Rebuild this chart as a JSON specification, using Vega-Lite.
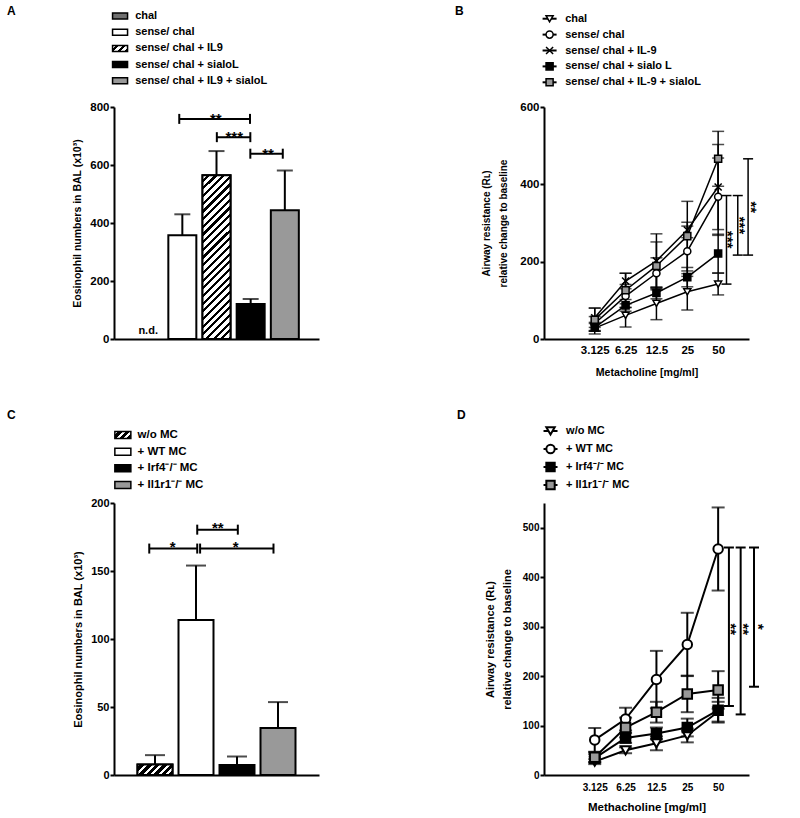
{
"$schema": "https://vega.github.io/schema/vega-lite/v6.json",
"padding": {"left": 7, "top": 5, "right": 5, "bottom": 5},
"background": "white",
"bounds": "flush",
"columns": 2,
"spacing": {"row": 0, "column": 225},
"resolve": {"scale": {"fill": "independent", "shape": "independent"}},
"config": {
  "font": "Liberation Sans",
  "view": {"stroke": null},
  "axis": {"grid": false, "domainColor": "#000", "domainWidth": 2, "tickColor": "#000", "tickWidth": 2, "tickSize": 4, "labelColor": "#000", "labelFont": "Liberation Sans", "labelFontWeight": "bold", "labelFontSize": 11, "labelPadding": 1, "titleColor": "#000", "titleFont": "Liberation Sans", "titleFontWeight": "bold", "titleFontSize": 11},
  "title": {"font": "Liberation Sans", "fontWeight": "bold", "fontSize": 12, "color": "#000", "anchor": "start", "frame": "group", "offset": 0},
  "text": {"font": "Liberation Sans", "fontWeight": "bold", "color": "#000"}
},
"datasets": {
  "legA": [
    {"label": "chal", "order": 0},
    {"label": "sense/ chal", "order": 1},
    {"label": "sense/ chal + IL9", "order": 2},
    {"label": "sense/ chal + sialoL", "order": 3},
    {"label": "sense/ chal + IL9 + sialoL", "order": 4}
  ],
  "A": [
    {"group": "chal", "idx": 0, "mean": null, "sem": null, "note": "n.d."},
    {"group": "sense/ chal", "idx": 1, "mean": 358, "sem": 72},
    {"group": "sense/ chal + IL9", "idx": 2, "mean": 565, "sem": 83},
    {"group": "sense/ chal + sialoL", "idx": 3, "mean": 121, "sem": 17},
    {"group": "sense/ chal + IL9 + sialoL", "idx": 4, "mean": 444, "sem": 137}
  ],
  "Asig": [
    {"x1": 0.91, "x2": 2.98, "xm": 1.98, "y": 759, "label": "**"},
    {"x1": 2.01, "x2": 2.99, "xm": 2.52, "y": 696, "label": "***"},
    {"x1": 2.99, "x2": 3.94, "xm": 3.51, "y": 639, "label": "**"}
  ],
  "legB": [
    {"label": "chal", "order": 0},
    {"label": "sense/ chal", "order": 1},
    {"label": "sense/ chal + IL-9", "order": 2},
    {"label": "sense/ chal + sialo L", "order": 3},
    {"label": "sense/ chal + IL-9 + sialoL", "order": 4}
  ],
  "B": [
    {"s": "chal", "dose": 3.125, "mean": 28, "sem": 15},
    {"s": "chal", "dose": 6.25, "mean": 61, "sem": 30},
    {"s": "chal", "dose": 12.5, "mean": 92, "sem": 42},
    {"s": "chal", "dose": 25, "mean": 122, "sem": 47},
    {"s": "chal", "dose": 50, "mean": 142, "sem": 28},
    {"s": "sense/ chal", "dose": 3.125, "mean": 40, "sem": 18},
    {"s": "sense/ chal", "dose": 6.25, "mean": 111, "sem": 30},
    {"s": "sense/ chal", "dose": 12.5, "mean": 170, "sem": 40},
    {"s": "sense/ chal", "dose": 25, "mean": 227, "sem": 65},
    {"s": "sense/ chal", "dose": 50, "mean": 368, "sem": 100},
    {"s": "sense/ chal + IL-9", "dose": 3.125, "mean": 55, "sem": 25},
    {"s": "sense/ chal + IL-9", "dose": 6.25, "mean": 150, "sem": 20},
    {"s": "sense/ chal + IL-9", "dose": 12.5, "mean": 202, "sem": 70},
    {"s": "sense/ chal + IL-9", "dose": 25, "mean": 282, "sem": 20},
    {"s": "sense/ chal + IL-9", "dose": 50, "mean": 393, "sem": 110},
    {"s": "sense/ chal + sialo L", "dose": 3.125, "mean": 30, "sem": 10},
    {"s": "sense/ chal + sialo L", "dose": 6.25, "mean": 87, "sem": 15},
    {"s": "sense/ chal + sialo L", "dose": 12.5, "mean": 119, "sem": 15},
    {"s": "sense/ chal + sialo L", "dose": 25, "mean": 160, "sem": 25},
    {"s": "sense/ chal + sialo L", "dose": 50, "mean": 221, "sem": 50},
    {"s": "sense/ chal + IL-9 + sialoL", "dose": 3.125, "mean": 50, "sem": 30},
    {"s": "sense/ chal + IL-9 + sialoL", "dose": 6.25, "mean": 126, "sem": 44},
    {"s": "sense/ chal + IL-9 + sialoL", "dose": 12.5, "mean": 189, "sem": 62},
    {"s": "sense/ chal + IL-9 + sialoL", "dose": 25, "mean": 266, "sem": 90},
    {"s": "sense/ chal + IL-9 + sialoL", "dose": 50, "mean": 466, "sem": 71}
  ],
  "Bsig": [
    {"bx": 60.3, "ytop": 371, "ybot": 142, "lx": 61.7, "ym": 257, "label": "***"},
    {"bx": 77.7, "ytop": 371, "ybot": 217, "lx": 80.7, "ym": 294, "label": "***"},
    {"bx": 98.0, "ytop": 466, "ybot": 217, "lx": 104.4, "ym": 341, "label": "**"}
  ],
  "legC": [
    {"label": "\u00a0\u00a0w/o MC", "order": 0},
    {"label": "+ WT MC", "order": 1},
    {"label": "+ Irf4\u207b/\u207b MC", "order": 2},
    {"label": "+ Il1r1\u207b/\u207b MC", "order": 3}
  ],
  "C": [
    {"group": "w/o MC", "idx": 0, "mean": 7.8, "sem": 6.8},
    {"group": "+ WT MC", "idx": 1, "mean": 114, "sem": 40},
    {"group": "+ Irf4-/- MC", "idx": 2, "mean": 7.3, "sem": 6.3},
    {"group": "+ Il1r1-/- MC", "idx": 3, "mean": 34.6, "sem": 19}
  ],
  "Csig": [
    {"x1": -0.14, "x2": 1.03, "xm": 0.43, "y": 166.5, "label": "*"},
    {"x1": 1.03, "x2": 2.02, "xm": 1.53, "y": 180.4, "label": "**"},
    {"x1": 1.1, "x2": 2.89, "xm": 1.97, "y": 166.5, "label": "*"}
  ],
  "legD": [
    {"label": "\u00a0\u00a0\u00a0w/o MC", "order": 0},
    {"label": "+ WT MC", "order": 1},
    {"label": "+ Irf4\u207b/\u207b MC", "order": 2},
    {"label": "+ Il1r1\u207b/\u207b MC", "order": 3}
  ],
  "D": [
    {"s": "w/o MC", "dose": 3.125, "mean": 27, "sem": 5},
    {"s": "w/o MC", "dose": 6.25, "mean": 50, "sem": 6},
    {"s": "w/o MC", "dose": 12.5, "mean": 64, "sem": 14},
    {"s": "w/o MC", "dose": 25, "mean": 80, "sem": 14},
    {"s": "w/o MC", "dose": 50, "mean": 128, "sem": 20},
    {"s": "+ WT MC", "dose": 3.125, "mean": 71, "sem": 24},
    {"s": "+ WT MC", "dose": 6.25, "mean": 113, "sem": 23},
    {"s": "+ WT MC", "dose": 12.5, "mean": 193, "sem": 58},
    {"s": "+ WT MC", "dose": 25, "mean": 264, "sem": 64},
    {"s": "+ WT MC", "dose": 50, "mean": 457, "sem": 84},
    {"s": "+ Irf4-/- MC", "dose": 3.125, "mean": 34, "sem": 8},
    {"s": "+ Irf4-/- MC", "dose": 6.25, "mean": 75, "sem": 10},
    {"s": "+ Irf4-/- MC", "dose": 12.5, "mean": 84, "sem": 12},
    {"s": "+ Irf4-/- MC", "dose": 25, "mean": 96, "sem": 18},
    {"s": "+ Irf4-/- MC", "dose": 50, "mean": 131, "sem": 25},
    {"s": "+ Il1r1-/- MC", "dose": 3.125, "mean": 36, "sem": 10},
    {"s": "+ Il1r1-/- MC", "dose": 6.25, "mean": 96, "sem": 20},
    {"s": "+ Il1r1-/- MC", "dose": 12.5, "mean": 127, "sem": 21},
    {"s": "+ Il1r1-/- MC", "dose": 25, "mean": 164, "sem": 37},
    {"s": "+ Il1r1-/- MC", "dose": 50, "mean": 172, "sem": 38}
  ],
  "Dsig": [
    {"bx": 63.7, "ytop": 460, "ybot": 139.5, "lx": 66.4, "ym": 295, "label": "**"},
    {"bx": 82.9, "ytop": 460, "ybot": 122.5, "lx": 87.8, "ym": 295, "label": "**"},
    {"bx": 111.9, "ytop": 460, "ybot": 178.5, "lx": 122.9, "ym": 300, "label": "*"}
  ]
},
"concat": [
  {
    "width": 205, "height": 100,
    "title": {"text": "A", "dx": -107, "dy": 15, "baseline": "top"},
    "data": {"name": "legA"},
    "encoding": {"y": {"field": "order", "type": "quantitative", "scale": {"domain": [-0.5556, 5.617], "reverse": true}, "axis": null}},
    "layer": [
      {"transform": [{"filter": "datum.order != 2"}],
       "mark": {"type": "point", "shape": "M-1,-0.4H1V0.4H-1Z", "size": 225, "filled": true, "stroke": "#000", "strokeWidth": 1.5, "opacity": 1},
       "encoding": {"x": {"datum": 6.5, "type": "quantitative", "scale": {"domain": [0, 205]}, "axis": null},
                    "fill": {"field": "label", "type": "nominal", "scale": {"domain": ["chal", "sense/ chal", "sense/ chal + sialoL", "sense/ chal + IL9 + sialoL"], "range": ["#707070", "#ffffff", "#000000", "#999999"]}, "legend": null}}},
      {"transform": [{"filter": "datum.order == 2"}],
       "mark": {"type": "point", "shape": "M-1,-0.4H1V0.4H-1Z", "size": 225, "filled": true, "stroke": "#000", "strokeWidth": 1.5, "opacity": 1,
                "fill": {"gradient": "linear", "x1": 0, "y1": 0, "x2": 1.207, "y2": 0.483, "stops": [{"offset":0,"color":"#fff"},{"offset":0.1667,"color":"#fff"},{"offset":0.1667,"color":"#000"},{"offset":0.3333,"color":"#000"},{"offset":0.3333,"color":"#fff"},{"offset":0.5,"color":"#fff"},{"offset":0.5,"color":"#000"},{"offset":0.6667,"color":"#000"},{"offset":0.6667,"color":"#fff"},{"offset":0.8333,"color":"#fff"},{"offset":0.8333,"color":"#000"},{"offset":1,"color":"#000"}]}},
       "encoding": {"x": {"datum": 6.5, "type": "quantitative"}}},
      {"mark": {"type": "text", "align": "left", "baseline": "middle", "fontSize": 11, "fontWeight": "bold", "color": "#000"},
       "encoding": {"x": {"datum": 22.7, "type": "quantitative"}, "text": {"field": "label"}}}
    ]
  },
  {
    "width": 205, "height": 100,
    "title": {"text": "B", "dx": -89, "dy": 15, "baseline": "top"},
    "data": {"name": "legB"},
    "encoding": {"y": {"field": "order", "type": "quantitative", "scale": {"domain": [-0.736, 5.553], "reverse": true}, "axis": null}},
    "layer": [
      {"mark": {"type": "point", "shape": "stroke", "size": 196, "filled": false, "stroke": "#000", "strokeWidth": 2, "opacity": 1},
       "encoding": {"x": {"datum": 6, "type": "quantitative", "scale": {"domain": [0, 205]}, "axis": null}}},
      {"mark": {"type": "point", "filled": true, "stroke": "#000", "strokeWidth": 1.5, "size": 50, "opacity": 1},
       "encoding": {"x": {"datum": 6, "type": "quantitative"},
         "shape": {"field": "label", "type": "nominal", "scale": {"domain": ["chal", "sense/ chal", "sense/ chal + IL-9", "sense/ chal + sialo L", "sense/ chal + IL-9 + sialoL"], "range": ["triangle-down", "circle", "M-1,-1L1,1M-1,1L1,-1", "square", "square"]}, "legend": null},
         "fill": {"field": "label", "type": "nominal", "scale": {"domain": ["chal", "sense/ chal", "sense/ chal + IL-9", "sense/ chal + sialo L", "sense/ chal + IL-9 + sialoL"], "range": ["#ffffff", "#ffffff", "#ffffff", "#000000", "#999999"]}, "legend": null}}},
      {"mark": {"type": "text", "align": "left", "baseline": "middle", "fontSize": 11, "fontWeight": "bold", "color": "#000"},
       "encoding": {"x": {"datum": 22.7, "type": "quantitative"}, "text": {"field": "label"}}}
    ]
  },
  {
    "width": 205, "height": 232,
    "layer": [
      {"data": {"name": "A"},
       "transform": [{"filter": "isValid(datum.mean)"}],
       "layer": [
         {"mark": {"type": "errorbar", "color": "#000", "ticks": {"size": 16, "thickness": 2}, "rule": {"strokeWidth": 2}},
          "encoding": {
            "x": {"field": "idx", "type": "quantitative", "scale": {"domain": [-0.5, 4.5]}, "axis": {"labels": false, "ticks": false, "title": null}},
            "y": {"field": "mean", "type": "quantitative", "scale": {"domain": [0, 800]}, "axis": {"values": [0, 200, 400, 600, 800], "labelFontSize": 11.5, "title": "Eosinophil numbers in BAL (x10\u00b3)", "titleFontSize": 10.5, "titlePadding": 7}},
            "yError": {"field": "sem"}}},
         {"mark": {"type": "bar", "width": 28, "stroke": "#000", "strokeWidth": 2},
          "encoding": {"x": {"field": "idx", "type": "quantitative"}, "y": {"field": "mean", "type": "quantitative"},
            "fill": {"field": "group", "type": "nominal", "scale": {"domain": ["sense/ chal", "sense/ chal + IL9", "sense/ chal + sialoL", "sense/ chal + IL9 + sialoL"], "range": ["#ffffff", "#ffffff", "#000000", "#999999"]}, "legend": null}}},
         {"transform": [{"filter": "datum.group == 'sense/ chal + IL9'"}],
          "mark": {"type": "bar", "width": 28, "stroke": "#000", "strokeWidth": 2,
            "fill": {"gradient": "linear", "x1": 0, "y1": 0, "x2": 0.1943, "y2": 1.1376, "stops": [
{"offset":0,"color":"#fff"},{"offset":0.024,"color":"#fff"},{"offset":0.024,"color":"#000"},{"offset":0.04,"color":"#000"},
{"offset":0.04,"color":"#fff"},{"offset":0.064,"color":"#fff"},{"offset":0.064,"color":"#000"},{"offset":0.08,"color":"#000"},
{"offset":0.08,"color":"#fff"},{"offset":0.104,"color":"#fff"},{"offset":0.104,"color":"#000"},{"offset":0.12,"color":"#000"},
{"offset":0.12,"color":"#fff"},{"offset":0.144,"color":"#fff"},{"offset":0.144,"color":"#000"},{"offset":0.16,"color":"#000"},
{"offset":0.16,"color":"#fff"},{"offset":0.184,"color":"#fff"},{"offset":0.184,"color":"#000"},{"offset":0.2,"color":"#000"},
{"offset":0.2,"color":"#fff"},{"offset":0.224,"color":"#fff"},{"offset":0.224,"color":"#000"},{"offset":0.24,"color":"#000"},
{"offset":0.24,"color":"#fff"},{"offset":0.264,"color":"#fff"},{"offset":0.264,"color":"#000"},{"offset":0.28,"color":"#000"},
{"offset":0.28,"color":"#fff"},{"offset":0.304,"color":"#fff"},{"offset":0.304,"color":"#000"},{"offset":0.32,"color":"#000"},
{"offset":0.32,"color":"#fff"},{"offset":0.344,"color":"#fff"},{"offset":0.344,"color":"#000"},{"offset":0.36,"color":"#000"},
{"offset":0.36,"color":"#fff"},{"offset":0.384,"color":"#fff"},{"offset":0.384,"color":"#000"},{"offset":0.4,"color":"#000"},
{"offset":0.4,"color":"#fff"},{"offset":0.424,"color":"#fff"},{"offset":0.424,"color":"#000"},{"offset":0.44,"color":"#000"},
{"offset":0.44,"color":"#fff"},{"offset":0.464,"color":"#fff"},{"offset":0.464,"color":"#000"},{"offset":0.48,"color":"#000"},
{"offset":0.48,"color":"#fff"},{"offset":0.504,"color":"#fff"},{"offset":0.504,"color":"#000"},{"offset":0.52,"color":"#000"},
{"offset":0.52,"color":"#fff"},{"offset":0.544,"color":"#fff"},{"offset":0.544,"color":"#000"},{"offset":0.56,"color":"#000"},
{"offset":0.56,"color":"#fff"},{"offset":0.584,"color":"#fff"},{"offset":0.584,"color":"#000"},{"offset":0.6,"color":"#000"},
{"offset":0.6,"color":"#fff"},{"offset":0.624,"color":"#fff"},{"offset":0.624,"color":"#000"},{"offset":0.64,"color":"#000"},
{"offset":0.64,"color":"#fff"},{"offset":0.664,"color":"#fff"},{"offset":0.664,"color":"#000"},{"offset":0.68,"color":"#000"},
{"offset":0.68,"color":"#fff"},{"offset":0.704,"color":"#fff"},{"offset":0.704,"color":"#000"},{"offset":0.72,"color":"#000"},
{"offset":0.72,"color":"#fff"},{"offset":0.744,"color":"#fff"},{"offset":0.744,"color":"#000"},{"offset":0.76,"color":"#000"},
{"offset":0.76,"color":"#fff"},{"offset":0.784,"color":"#fff"},{"offset":0.784,"color":"#000"},{"offset":0.8,"color":"#000"},
{"offset":0.8,"color":"#fff"},{"offset":0.824,"color":"#fff"},{"offset":0.824,"color":"#000"},{"offset":0.84,"color":"#000"},
{"offset":0.84,"color":"#fff"},{"offset":0.864,"color":"#fff"},{"offset":0.864,"color":"#000"},{"offset":0.88,"color":"#000"},
{"offset":0.88,"color":"#fff"},{"offset":0.904,"color":"#fff"},{"offset":0.904,"color":"#000"},{"offset":0.92,"color":"#000"},
{"offset":0.92,"color":"#fff"},{"offset":0.944,"color":"#fff"},{"offset":0.944,"color":"#000"},{"offset":0.96,"color":"#000"},
{"offset":0.96,"color":"#fff"},{"offset":0.984,"color":"#fff"},{"offset":0.984,"color":"#000"},{"offset":1,"color":"#000"}]}},
          "encoding": {"x": {"field": "idx", "type": "quantitative"}, "y": {"field": "mean", "type": "quantitative"}}}
       ]},
      {"data": {"name": "A"},
       "transform": [{"filter": "isValid(datum.note)"}],
       "mark": {"type": "text", "baseline": "alphabetic", "dy": -5, "fontSize": 11, "fontWeight": "bold", "color": "#000"},
       "encoding": {"x": {"field": "idx", "type": "quantitative"}, "y": {"datum": 0, "type": "quantitative"}, "text": {"field": "note"}}},
      {"data": {"name": "Asig"},
       "layer": [
         {"mark": {"type": "rule", "color": "#000", "strokeWidth": 2},
          "encoding": {"x": {"field": "x1", "type": "quantitative"}, "x2": {"field": "x2"}, "y": {"field": "y", "type": "quantitative"}}},
         {"mark": {"type": "tick", "orient": "vertical", "color": "#000", "size": 10, "thickness": 2, "opacity": 1},
          "encoding": {"x": {"field": "x1", "type": "quantitative"}, "y": {"field": "y", "type": "quantitative"}}},
         {"mark": {"type": "tick", "orient": "vertical", "color": "#000", "size": 10, "thickness": 2, "opacity": 1},
          "encoding": {"x": {"field": "x2", "type": "quantitative"}, "y": {"field": "y", "type": "quantitative"}}},
         {"mark": {"type": "text", "baseline": "alphabetic", "dy": 5, "fontSize": 15, "fontWeight": "bold", "color": "#000"},
          "encoding": {"x": {"field": "xm", "type": "quantitative"}, "y": {"field": "y", "type": "quantitative"}, "text": {"field": "label"}}}
       ]}
    ]
  },
  {
    "width": 205, "height": 232,
    "layer": [
      {"data": {"name": "B"},
       "layer": [
         {"mark": {"type": "errorbar", "color": "#000", "ticks": {"size": 12, "thickness": 1.5}, "rule": {"strokeWidth": 1.5}},
          "encoding": {
            "x": {"field": "dose", "type": "quantitative", "scale": {"type": "log", "domain": [2.114, 70.3]}, "axis": {"values": [3.125, 6.25, 12.5, 25, 50], "format": "~g", "ticks": false, "labelFontSize": 11.5, "labelPadding": 5, "title": "Metacholine [mg/ml]", "titleFontSize": 10.6, "titlePadding": 12}},
            "y": {"field": "mean", "type": "quantitative", "scale": {"domain": [0, 600]}, "axis": {"values": [0, 100, 200, 300, 400, 500, 600], "labelFontSize": 11.5, "title": ["Airway resistance (R\u029f)", "relative change to baseline"], "titleFontSize": 10, "titleLineHeight": 17.5, "titlePadding": 11}},
            "yError": {"field": "sem"}}},
         {"mark": {"type": "line", "color": "#000", "strokeWidth": 1.5},
          "encoding": {"x": {"field": "dose", "type": "quantitative"}, "y": {"field": "mean", "type": "quantitative"}, "detail": {"field": "s"}}},
         {"mark": {"type": "point", "filled": true, "stroke": "#000", "strokeWidth": 1.5, "size": 50, "opacity": 1},
          "encoding": {"x": {"field": "dose", "type": "quantitative"}, "y": {"field": "mean", "type": "quantitative"},
            "shape": {"field": "s", "type": "nominal", "scale": {"domain": ["chal", "sense/ chal", "sense/ chal + IL-9", "sense/ chal + sialo L", "sense/ chal + IL-9 + sialoL"], "range": ["triangle-down", "circle", "M-1,-1L1,1M-1,1L1,-1", "square", "square"]}, "legend": null},
            "fill": {"field": "s", "type": "nominal", "scale": {"domain": ["chal", "sense/ chal", "sense/ chal + IL-9", "sense/ chal + sialo L", "sense/ chal + IL-9 + sialoL"], "range": ["#ffffff", "#ffffff", "#ffffff", "#000000", "#999999"]}, "legend": null}}}
       ]},
      {"data": {"name": "Bsig"},
       "layer": [
         {"mark": {"type": "rule", "color": "#000", "strokeWidth": 1.5},
          "encoding": {"x": {"field": "bx", "type": "quantitative"}, "y": {"field": "ytop", "type": "quantitative"}, "y2": {"field": "ybot"}}},
         {"mark": {"type": "tick", "orient": "horizontal", "color": "#000", "size": 10, "thickness": 1.5, "opacity": 1},
          "encoding": {"x": {"field": "bx", "type": "quantitative"}, "y": {"field": "ytop", "type": "quantitative"}}},
         {"mark": {"type": "tick", "orient": "horizontal", "color": "#000", "size": 10, "thickness": 1.5, "opacity": 1},
          "encoding": {"x": {"field": "bx", "type": "quantitative"}, "y": {"field": "ybot", "type": "quantitative"}}},
         {"mark": {"type": "text", "angle": 90.6, "align": "center", "baseline": "middle", "fontSize": 15, "fontWeight": "bold", "color": "#000"},
          "encoding": {"x": {"field": "lx", "type": "quantitative"}, "y": {"field": "ym", "type": "quantitative"}, "text": {"field": "label"}}}
       ]}
    ]
  },
  {
    "width": 205, "height": 164,
    "title": {"text": "C", "dx": -107, "dy": 87, "baseline": "top"},
    "data": {"name": "legC"},
    "encoding": {"y": {"field": "order", "type": "quantitative", "scale": {"domain": [-5.76, 4.08], "reverse": true}, "axis": null}},
    "layer": [
      {"transform": [{"filter": "datum.order != 0"}],
       "mark": {"type": "point", "shape": "M-1,-0.44H1V0.44H-1Z", "size": 256, "filled": true, "stroke": "#000", "strokeWidth": 1.5, "opacity": 1},
       "encoding": {"x": {"datum": 9.5, "type": "quantitative", "scale": {"domain": [0, 205]}, "axis": null},
                    "fill": {"field": "label", "type": "nominal", "scale": {"domain": ["+ WT MC", "+ Irf4\u207b/\u207b MC", "+ Il1r1\u207b/\u207b MC"], "range": ["#ffffff", "#000000", "#999999"]}, "legend": null}}},
      {"transform": [{"filter": "datum.order == 0"}],
       "mark": {"type": "point", "shape": "M-1,-0.44H1V0.44H-1Z", "size": 256, "filled": true, "stroke": "#000", "strokeWidth": 1.5, "opacity": 1,
                "fill": {"gradient": "linear", "x1": 0, "y1": 0, "x2": 1.207, "y2": 0.528, "stops": [{"offset":0,"color":"#fff"},{"offset":0.1333,"color":"#fff"},{"offset":0.1333,"color":"#000"},{"offset":0.3333,"color":"#000"},{"offset":0.3333,"color":"#fff"},{"offset":0.4667,"color":"#fff"},{"offset":0.4667,"color":"#000"},{"offset":0.6667,"color":"#000"},{"offset":0.6667,"color":"#fff"},{"offset":0.8,"color":"#fff"},{"offset":0.8,"color":"#000"},{"offset":1,"color":"#000"}]}},
       "encoding": {"x": {"datum": 9.5, "type": "quantitative"}}},
      {"mark": {"type": "text", "align": "left", "baseline": "middle", "fontSize": 11.5, "fontWeight": "bold", "color": "#000"},
       "encoding": {"x": {"datum": 25.3, "type": "quantitative"}, "text": {"field": "label"}}}
    ]
  },
  {
    "width": 205, "height": 164,
    "title": {"text": "D", "dx": -87, "dy": 87, "baseline": "top"},
    "data": {"name": "legD"},
    "encoding": {"y": {"field": "order", "type": "quantitative", "scale": {"domain": [-5.11, 4.0], "reverse": true}, "axis": null}},
    "layer": [
      {"mark": {"type": "point", "shape": "stroke", "size": 196, "filled": false, "stroke": "#000", "strokeWidth": 2, "opacity": 1},
       "encoding": {"x": {"datum": 7, "type": "quantitative", "scale": {"domain": [0, 205]}, "axis": null}}},
      {"mark": {"type": "point", "filled": true, "stroke": "#000", "strokeWidth": 2, "size": 70, "opacity": 1},
       "encoding": {"x": {"datum": 7, "type": "quantitative"},
         "shape": {"field": "label", "type": "nominal", "scale": {"domain": ["\u00a0\u00a0\u00a0w/o MC", "+ WT MC", "+ Irf4\u207b/\u207b MC", "+ Il1r1\u207b/\u207b MC"], "range": ["triangle-down", "circle", "square", "square"]}, "legend": null},
         "fill": {"field": "label", "type": "nominal", "scale": {"domain": ["\u00a0\u00a0\u00a0w/o MC", "+ WT MC", "+ Irf4\u207b/\u207b MC", "+ Il1r1\u207b/\u207b MC"], "range": ["#ffffff", "#ffffff", "#000000", "#999999"]}, "legend": null}}},
      {"mark": {"type": "text", "align": "left", "baseline": "middle", "fontSize": 11, "fontWeight": "bold", "color": "#000"},
       "encoding": {"x": {"datum": 23.7, "type": "quantitative"}, "text": {"field": "label"}}}
    ]
  },
  {
    "width": 205, "height": 272,
    "layer": [
      {"data": {"name": "C"},
       "layer": [
         {"mark": {"type": "errorbar", "color": "#000", "ticks": {"size": 20, "thickness": 2}, "rule": {"strokeWidth": 2}},
          "encoding": {
            "x": {"field": "idx", "type": "quantitative", "scale": {"domain": [-0.5, 3.5]}, "axis": {"labels": false, "ticks": false, "title": null}},
            "y": {"field": "mean", "type": "quantitative", "scale": {"domain": [0, 200]}, "axis": {"values": [0, 50, 100, 150, 200], "labelFontSize": 11, "title": "Eosinophil numbers in BAL (x10\u00b3)", "titleFontSize": 11, "titlePadding": 7}},
            "yError": {"field": "sem"}}},
         {"mark": {"type": "bar", "width": 35, "stroke": "#000", "strokeWidth": 2},
          "encoding": {"x": {"field": "idx", "type": "quantitative"}, "y": {"field": "mean", "type": "quantitative"},
            "fill": {"field": "group", "type": "nominal", "scale": {"domain": ["w/o MC", "+ WT MC", "+ Irf4-/- MC", "+ Il1r1-/- MC"], "range": ["#000000", "#ffffff", "#000000", "#999999"]}, "legend": null}}},
         {"transform": [{"filter": "datum.group == 'w/o MC'"}],
          "mark": {"type": "bar", "width": 35, "stroke": "#000", "strokeWidth": 2,
            "fill": {"gradient": "linear", "x1": 0, "y1": 0, "x2": 1.1936, "y2": 0.3617, "stops": [{"offset":0,"color":"#fff"},{"offset":0.0667,"color":"#fff"},{"offset":0.0667,"color":"#000"},{"offset":0.1667,"color":"#000"},{"offset":0.1667,"color":"#fff"},{"offset":0.2333,"color":"#fff"},{"offset":0.2333,"color":"#000"},{"offset":0.3333,"color":"#000"},{"offset":0.3333,"color":"#fff"},{"offset":0.4,"color":"#fff"},{"offset":0.4,"color":"#000"},{"offset":0.5,"color":"#000"},{"offset":0.5,"color":"#fff"},{"offset":0.5667,"color":"#fff"},{"offset":0.5667,"color":"#000"},{"offset":0.6667,"color":"#000"},{"offset":0.6667,"color":"#fff"},{"offset":0.7333,"color":"#fff"},{"offset":0.7333,"color":"#000"},{"offset":0.8333,"color":"#000"},{"offset":0.8333,"color":"#fff"},{"offset":0.9,"color":"#fff"},{"offset":0.9,"color":"#000"},{"offset":1,"color":"#000"}]}},
          "encoding": {"x": {"field": "idx", "type": "quantitative"}, "y": {"field": "mean", "type": "quantitative"}}}
       ]},
      {"data": {"name": "Csig"},
       "layer": [
         {"mark": {"type": "rule", "color": "#000", "strokeWidth": 2},
          "encoding": {"x": {"field": "x1", "type": "quantitative"}, "x2": {"field": "x2"}, "y": {"field": "y", "type": "quantitative"}}},
         {"mark": {"type": "tick", "orient": "vertical", "color": "#000", "size": 10, "thickness": 2, "opacity": 1},
          "encoding": {"x": {"field": "x1", "type": "quantitative"}, "y": {"field": "y", "type": "quantitative"}}},
         {"mark": {"type": "tick", "orient": "vertical", "color": "#000", "size": 10, "thickness": 2, "opacity": 1},
          "encoding": {"x": {"field": "x2", "type": "quantitative"}, "y": {"field": "y", "type": "quantitative"}}},
         {"mark": {"type": "text", "baseline": "alphabetic", "dy": 3, "fontSize": 15, "fontWeight": "bold", "color": "#000"},
          "encoding": {"x": {"field": "xm", "type": "quantitative"}, "y": {"field": "y", "type": "quantitative"}, "text": {"field": "label"}}}
       ]}
    ]
  },
  {
    "width": 205, "height": 272,
    "layer": [
      {"data": {"name": "D"},
       "layer": [
         {"mark": {"type": "errorbar", "color": "#000", "ticks": {"size": 13, "thickness": 2}, "rule": {"strokeWidth": 2}},
          "encoding": {
            "x": {"field": "dose", "type": "quantitative", "scale": {"type": "log", "domain": [1.852, 63.7]}, "axis": {"values": [3.125, 6.25, 12.5, 25, 50], "format": "~g", "ticks": false, "labelFontSize": 10, "labelPadding": 7, "title": "Methacholine [mg/ml]", "titleFontSize": 11.5, "titlePadding": 9}},
            "y": {"field": "mean", "type": "quantitative", "scale": {"domain": [0, 550]}, "axis": {"values": [0, 100, 200, 300, 400, 500], "labelFontSize": 10, "title": ["Airway resistance (R\u029f)", "relative change to baseline"], "titleFontSize": 11, "titleLineHeight": 16.7, "titlePadding": 10}},
            "yError": {"field": "sem"}}},
         {"mark": {"type": "line", "color": "#000", "strokeWidth": 2},
          "encoding": {"x": {"field": "dose", "type": "quantitative"}, "y": {"field": "mean", "type": "quantitative"}, "detail": {"field": "s"}}},
         {"mark": {"type": "point", "filled": true, "stroke": "#000", "strokeWidth": 2, "size": 90, "opacity": 1},
          "encoding": {"x": {"field": "dose", "type": "quantitative"}, "y": {"field": "mean", "type": "quantitative"},
            "shape": {"field": "s", "type": "nominal", "scale": {"domain": ["w/o MC", "+ WT MC", "+ Irf4-/- MC", "+ Il1r1-/- MC"], "range": ["triangle-down", "circle", "square", "square"]}, "legend": null},
            "fill": {"field": "s", "type": "nominal", "scale": {"domain": ["w/o MC", "+ WT MC", "+ Irf4-/- MC", "+ Il1r1-/- MC"], "range": ["#ffffff", "#ffffff", "#000000", "#999999"]}, "legend": null}}}
       ]},
      {"data": {"name": "Dsig"},
       "layer": [
         {"mark": {"type": "rule", "color": "#000", "strokeWidth": 2},
          "encoding": {"x": {"field": "bx", "type": "quantitative"}, "y": {"field": "ytop", "type": "quantitative"}, "y2": {"field": "ybot"}}},
         {"mark": {"type": "tick", "orient": "horizontal", "color": "#000", "size": 10, "thickness": 2, "opacity": 1},
          "encoding": {"x": {"field": "bx", "type": "quantitative"}, "y": {"field": "ytop", "type": "quantitative"}}},
         {"mark": {"type": "tick", "orient": "horizontal", "color": "#000", "size": 10, "thickness": 2, "opacity": 1},
          "encoding": {"x": {"field": "bx", "type": "quantitative"}, "y": {"field": "ybot", "type": "quantitative"}}},
         {"mark": {"type": "text", "angle": 90.6, "align": "center", "baseline": "middle", "fontSize": 15, "fontWeight": "bold", "color": "#000"},
          "encoding": {"x": {"field": "lx", "type": "quantitative"}, "y": {"field": "ym", "type": "quantitative"}, "text": {"field": "label"}}}
       ]}
    ]
  }
]
}
